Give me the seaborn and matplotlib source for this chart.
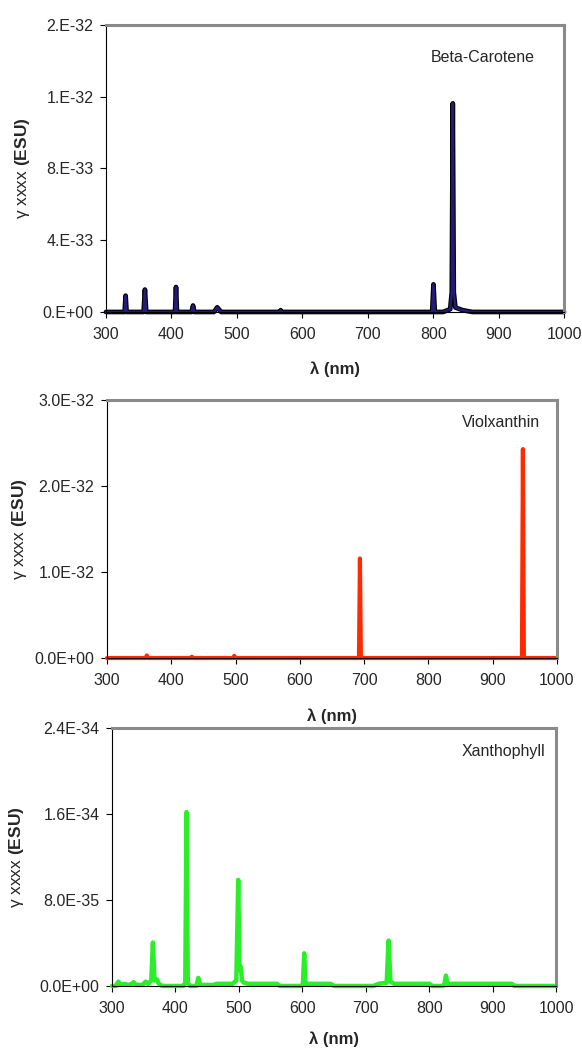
import matplotlib
matplotlib.use("Agg")
import matplotlib.pyplot as plt
import seaborn as sns
from matplotlib.ticker import FormatStrFormatter

# Spectra (wavelength in nm, gamma_xxxx in ESU)
beta_x = [300, 328.5, 330, 331.5, 357.5, 359.5, 361.5, 405.5, 407, 408.5,
          431, 433, 435, 465, 470, 476, 566, 567, 568,
          798.5, 800.5, 802.5, 815, 826, 828.5, 830, 831.5, 834, 845, 860, 1000]
beta_y = [0, 0, 9.1e-34, 0, 0, 1.25e-33, 0, 0, 1.39e-33, 0,
          0, 3.6e-34, 0, 0, 2.6e-34, 0, 0, 1.0e-34, 0,
          0, 1.54e-33, 0, 0, 1.5e-34, 1.1e-33, 1.163e-32, 1.1e-33, 2.5e-34, 1.0e-34, 0, 0]

viol_x = [300, 360, 362, 364, 430, 432, 434, 496, 498, 500,
          692, 693.5, 695, 945.5, 947, 948.5, 1000]
viol_y = [0, 0, 3e-34, 0, 0, 1.5e-34, 0, 0, 2.5e-34, 0,
          0, 1.158e-32, 0, 0, 2.43e-32, 0, 0]

xan_x = [300, 306, 310, 314, 320, 326, 331, 334, 338, 348,
         353, 357, 362, 364.5, 367, 371, 373, 376, 380, 412,
         415.5, 417.5, 419.5, 423, 433, 436, 439, 460, 465, 490,
         496, 499, 501, 503, 505, 508, 515, 560, 565, 598,
         601, 603, 605, 608, 645, 650, 712, 720, 733, 736,
         739, 745, 800, 805, 822, 824, 826.5, 829, 832, 930,
         935, 1000]
xan_y = [0, 0, 4e-36, 1e-36, 2e-36, 1e-36, 2e-36, 3.5e-36, 1e-36, 1e-36,
         4e-36, 2e-36, 5e-36, 4.04e-35, 5e-36, 6e-36, 3e-36, 1e-36, 0, 0,
         3e-36, 1.618e-34, 3e-36, 0, 0, 7.5e-36, 1e-36, 1e-36, 2e-36, 2e-36,
         5e-36, 9.87e-35, 1.5e-35, 1.8e-35, 5e-36, 3e-36, 2e-36, 2e-36, 0, 0,
         2e-36, 3.04e-35, 2e-36, 2e-36, 2e-36, 0, 0, 2e-36, 3e-36, 4.22e-35,
         4e-36, 2e-36, 2e-36, 0, 0, 2e-36, 9.6e-36, 2e-36, 2e-36, 2e-36,
         0, 0]

x_ticks = [300, 400, 500, 600, 700, 800, 900, 1000]
beta_yticks = [0, 4e-33, 8e-33, 1.2e-32, 1.6e-32]
viol_yticks = [0, 1e-32, 2e-32, 3e-32]
xan_yticks = [0, 8e-35, 1.6e-34, 2.4e-34]

sns.set_theme(style="ticks")
plt.rcParams['font.family'] = ['Liberation Sans', 'DejaVu Sans']
plt.rcParams['mathtext.fontset'] = 'custom'
plt.rcParams['mathtext.rm'] = 'Liberation Sans'
plt.rcParams['mathtext.it'] = 'Liberation Sans'
plt.rcParams['mathtext.bf'] = 'Liberation Sans:bold'

fig = plt.figure(figsize=(5.82, 10.49), dpi=100)
ax1 = fig.add_axes([0.1821, 0.7026, 0.787, 0.2736])
ax2 = fig.add_axes([0.1838, 0.3727, 0.7732, 0.2459])
ax3 = fig.add_axes([0.1924, 0.0601, 0.763, 0.2459])

# Beta-carotene: navy line with a black edge
sns.lineplot(x=beta_x, y=beta_y, ax=ax1, color='black', linewidth=3.4,
             estimator=None, sort=False)
sns.lineplot(x=beta_x, y=beta_y, ax=ax1, color='#241a78', linewidth=1.8,
             estimator=None, sort=False)
sns.lineplot(x=viol_x, y=viol_y, ax=ax2, color='#ff2a00', linewidth=3.0,
             estimator=None, sort=False)
sns.lineplot(x=xan_x, y=xan_y, ax=ax3, color='#2aee2a', linewidth=3.2,
             estimator=None, sort=False)

panels = [
    (ax1, beta_yticks, '%#.0E', 'Beta-Carotene', (0.822, 0.886), -0.162, -0.174),
    (ax2, viol_yticks, '%.1E', 'Violxanthin', (0.876, 0.912), -0.174, -0.194),
    (ax3, xan_yticks, '%.1E', 'Xanthophyll', (0.881, 0.908), -0.194, -0.178),
]

for ax, yt, fmt, name, pos, ylab_x, xlab_y in panels:
    for ln in ax.lines:
        ln.set_clip_on(False)
    ax.set_xlim(300, 1000)
    ax.set_ylim(yt[0], yt[-1])
    ax.set_xticks(x_ticks)
    ax.set_yticks(yt)
    ax.yaxis.set_major_formatter(FormatStrFormatter(fmt))
    ax.tick_params(axis='both', direction='out', length=4, width=0.8,
                   color='black', labelsize=11.5, pad=5)
    ax.tick_params(axis='x', pad=7)
    for side in ['left', 'bottom']:
        ax.spines[side].set_color('black')
        ax.spines[side].set_linewidth(0.8)
    for side in ['top', 'right']:
        ax.spines[side].set_visible(True)
        ax.spines[side].set_color('#8a8a8a')
        ax.spines[side].set_linewidth(2.2)
    ax.set_xlabel('λ (nm)', fontsize=12, fontweight='bold')
    # gamma_xxxx in regular weight, unit in bold as in the original
    ax.set_ylabel(r'$\mathrm{\gamma\ xxxx}$ (ESU)', fontsize=12.5,
                  fontweight='bold')
    ax.yaxis.set_label_coords(ylab_x, 0.5)
    ax.xaxis.set_label_coords(0.5, xlab_y)
    ax.text(pos[0], pos[1], name, transform=ax.transAxes, ha='center',
            va='center', fontsize=11.5)

plt.savefig('out.png', dpi=100)
